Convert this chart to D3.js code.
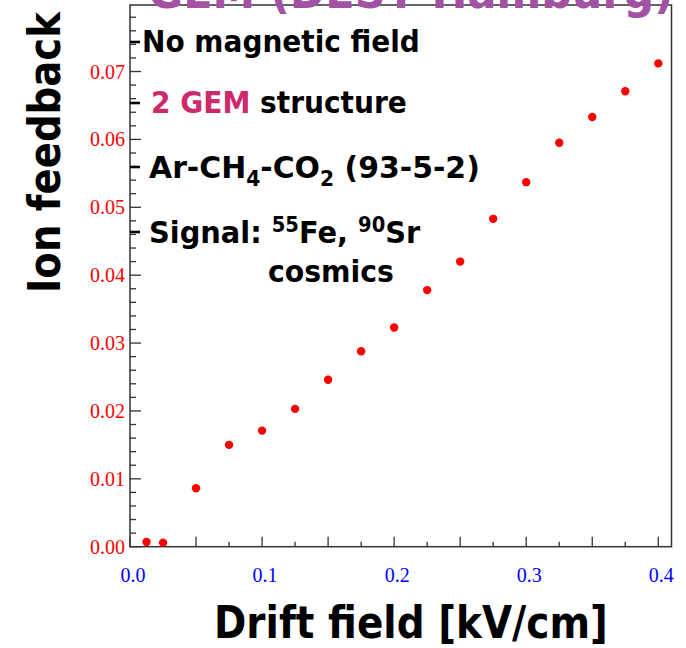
<!DOCTYPE html>
<html>
<head>
<meta charset="utf-8">
<script src="https://cdn.jsdelivr.net/npm/d3@7"></script>
<style>
  html, body { margin: 0; padding: 0; background: #fff; }
  svg { display: block; }
  .bold { font-family: "DejaVu Sans", Verdana, sans-serif; font-weight: bold; }
  .tick-label { font-family: "Liberation Serif", "Times New Roman", serif; font-size: 20px; }
</style>
</head>
<body>
<svg id="chart" width="686" height="648"></svg>
<script>
// Drift field (kV/cm) and measured ion feedback fraction
const driftField = [0.0125, 0.025, 0.05, 0.075, 0.1, 0.125, 0.15, 0.175, 0.2, 0.225,
                    0.25, 0.275, 0.3, 0.325, 0.35, 0.375, 0.4];
const ionFeedback = [0.0007, 0.0006, 0.0086, 0.0150, 0.0171, 0.0203, 0.0246, 0.0288, 0.0323, 0.0378,
                     0.0420, 0.0483, 0.0537, 0.0595, 0.0633, 0.0671, 0.0712];

const xTickLabels = [0.0, 0.1, 0.2, 0.3, 0.4];
const yTickLabels = [0.00, 0.01, 0.02, 0.03, 0.04, 0.05, 0.06, 0.07];

const titleText = "GEM (DESY Hamburg)";
const xTitle = "Drift field [kV/cm]";
const yTitle = "Ion feedback";

const W = 686, H = 648;
const margin = { top: 5, right: 14.5, bottom: 101.3, left: 130 };
const svg = d3.select("#chart");

const x = d3.scaleLinear().domain([0, 0.41]).range([margin.left, W - margin.right]);
const y = d3.scaleLinear().domain([0, 0.0798]).range([H - margin.bottom, margin.top]);

const frameColor = "#333";

// frame
svg.append("rect")
  .attr("x", x.range()[0]).attr("y", y.range()[1])
  .attr("width", x.range()[1] - x.range()[0])
  .attr("height", y.range()[0] - y.range()[1])
  .attr("fill", "none").attr("stroke", frameColor).attr("stroke-width", 1.5);

// y ticks: major every 0.01, minor every 0.002 (inward)
const yMinor = d3.range(0, 40).map(i => i * 0.002).filter(v => v <= y.domain()[1]);
svg.append("g").selectAll("line").data(yMinor).join("line")
  .attr("x1", x.range()[0])
  .attr("x2", (d, i) => x.range()[0] + ((i % 5 === 0) ? 11 : 6))
  .attr("y1", d => y(d)).attr("y2", d => y(d))
  .attr("stroke", frameColor).attr("stroke-width", 1.3);

// x ticks: every 0.025, longer at multiples of 0.05
const xMinor = d3.range(0, 17).map(i => i * 0.025);
svg.append("g").selectAll("line").data(xMinor).join("line")
  .attr("x1", d => x(d)).attr("x2", d => x(d))
  .attr("y1", y.range()[0])
  .attr("y2", (d, i) => y.range()[0] - ((i % 2 === 0) ? 10 : 5))
  .attr("stroke", frameColor).attr("stroke-width", 1.3);

// y tick labels (red)
svg.append("g").selectAll("text").data(yTickLabels).join("text")
  .attr("class", "tick-label")
  .attr("x", x.range()[0] - 5)
  .attr("y", d => y(d) + 7)
  .attr("text-anchor", "end")
  .attr("fill", "#ff0000")
  .text(d => d3.format(".2f")(d));

// x tick labels (blue)
svg.append("g").selectAll("text").data(xTickLabels).join("text")
  .attr("class", "tick-label")
  .attr("x", d => x(d) + 3)
  .attr("y", y.range()[0] + 35)
  .attr("text-anchor", "middle")
  .attr("fill", "#0000ff")
  .text(d => d3.format(".1f")(d));

// data points
svg.append("g").selectAll("circle").data(driftField).join("circle")
  .attr("cx", d => x(d))
  .attr("cy", (d, i) => y(ionFeedback[i]))
  .attr("r", 4.2)
  .attr("fill", "#ff0000");

// horizontally fit a group of text to a given width
function fitGroup(g, x0, width) {
  const bb = g.node().getBBox();
  const k = width / bb.width;
  g.attr("transform", `translate(${x0},0) scale(${k},1) translate(${-bb.x},0)`);
}

// annotation lines
const fs = 31;
function annoLine(parts, x0, baseline, width) {
  const g = svg.append("g");
  const t = g.append("text").attr("class", "bold").attr("y", baseline)
    .attr("font-size", fs).attr("fill", "#000");
  let shift = 0;
  parts.forEach(p => {
    const ts = t.append("tspan").text(p.t);
    let target = 0;
    if (p.sub) target = 8;
    if (p.sup) target = -11;
    if (p.sub || p.sup) ts.attr("font-size", 21);
    ts.attr("dy", target - shift);
    shift = target;
    if (p.c) ts.attr("fill", p.c);
  });
  fitGroup(g, x0, width);
  return g;
}

annoLine([{ t: "No magnetic field" }], 142, 52, 278);
annoLine([{ t: "2 GEM", c: "#cc2a6c" }, { t: " structure" }], 151, 113, 256);
annoLine([{ t: "Ar-CH" }, { t: "4", sub: true }, { t: "-CO" }, { t: "2", sub: true }, { t: " (93-5-2)" }], 149, 178, 331);
annoLine([{ t: "Signal: " }, { t: "55", sup: true }, { t: "Fe, " }, { t: "90", sup: true }, { t: "Sr" }], 149, 243, 272);
annoLine([{ t: "cosmics" }], 268, 282, 126);

// bullet dashes at the frame edge
const bulletRows = [42, 103, 167, 232];
svg.append("g").selectAll("line").data(bulletRows).join("line")
  .attr("x1", x.range()[0]).attr("x2", x.range()[0] + 10)
  .attr("y1", d => d).attr("y2", d => d)
  .attr("stroke", "#000").attr("stroke-width", 2.6);

// axis titles, condensed horizontally with a scale transform
function condensedText(str, size, length, place) {
  const g = svg.append("g");
  const t = g.append("text").attr("class", "bold").attr("font-size", size).text(str);
  const k = length / t.node().getComputedTextLength();
  g.attr("transform", `${place} scale(${k},1)`);
  return g;
}
condensedText(xTitle, 44, 394, "translate(214,638)");
condensedText(yTitle, 44, 281, "translate(60,293) rotate(-90)");

// title, partly above the top edge
const tg = svg.append("g");
tg.append("text").attr("class", "bold")
  .attr("y", 8).attr("font-size", 48).attr("fill", "#a352a3")
  .text(titleText);
fitGroup(tg, 148, 526);
</script>
</body>
</html>
